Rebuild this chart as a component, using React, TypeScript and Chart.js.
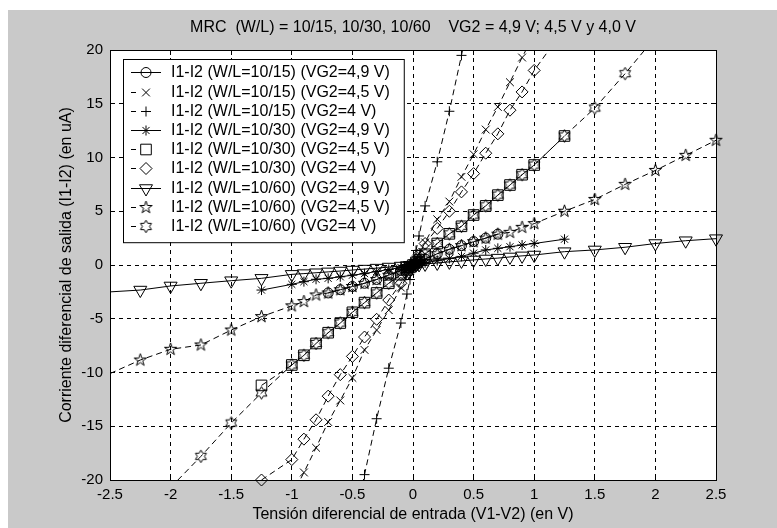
import React, { useEffect, useRef } from 'react';
import { Chart, registerables } from 'chart.js';

Chart.register(...registerables);

const FONT = '"Liberation Sans", Arial, Helvetica, sans-serif';
Chart.defaults.font.family = FONT;
Chart.defaults.color = '#000';

const TITLE = 'MRC  (W/L) = 10/15, 10/30, 10/60    VG2 = 4,9 V; 4,5 V y 4,0 V';
const X_LABEL = 'Tensión diferencial de entrada (V1-V2) (en V)';
const Y_LABEL = 'Corriente diferencial de salida (I1-I2) (en uA)';

const xTicks = [-2.5, -2, -1.5, -1, -0.5, 0, 0.5, 1, 1.5, 2, 2.5];
const xTickLabels = ['-2.5', '-2', '-1.5', '-1', '-0.5', '0', '0.5', '1', '1.5', '2', '2.5'];
const yTicks = [-20, -15, -10, -5, 0, 5, 10, 15, 20];
const yTickLabels = ['-20', '-15', '-10', '-5', '0', '5', '10', '15', '20'];

const seriesLabels = [
  'I1-I2 (W/L=10/15) (VG2=4,9 V)',
  'I1-I2 (W/L=10/15) (VG2=4,5 V)',
  'I1-I2 (W/L=10/15) (VG2=4 V)',
  'I1-I2 (W/L=10/30) (VG2=4,9 V)',
  'I1-I2 (W/L=10/30) (VG2=4,5 V)',
  'I1-I2 (W/L=10/30) (VG2=4 V)',
  'I1-I2 (W/L=10/60) (VG2=4,9 V)',
  'I1-I2 (W/L=10/60) (VG2=4,5 V)',
  'I1-I2 (W/L=10/60) (VG2=4 V)',
];

// 10/15, VG2 = 4.9 V (circles)
const x1 = [-0.7, -0.6, -0.5, -0.4, -0.3, -0.2, -0.1, -0.05, -0.025, 0, 0.025, 0.05, 0.1, 0.2, 0.3, 0.4, 0.5, 0.6, 0.7];
const y1 = [-2.6, -2.3, -2.0, -1.7, -1.35, -0.95, -0.5, -0.25, -0.13, 0, 0.14, 0.27, 0.55, 1.05, 1.46, 1.8, 2.17, 2.5, 2.87];

// 10/15, VG2 = 4.5 V (x)
const x2 = [-1, -0.9, -0.8, -0.7, -0.6, -0.5, -0.4, -0.3, -0.2, -0.1, -0.05, -0.025, 0, 0.025, 0.05, 0.1, 0.2, 0.3, 0.4, 0.5, 0.6, 0.7, 0.8, 0.9, 1];
const y2 = [-21.5, -19.3, -17, -14.6, -12.6, -10.5, -7.9, -6.05, -4.2, -2.1, -1.05, -0.52, 0, 0.52, 1.05, 2.1, 4.25, 5.9, 8.2, 10.3, 12.6, 14.7, 17, 19.3, 21.5];

// 10/15, VG2 = 4 V (+)
const x3 = [-0.5, -0.4, -0.3, -0.2, -0.1, -0.05, -0.025, 0, 0.025, 0.05, 0.1, 0.2, 0.3, 0.4, 0.5];
const y3 = [-25, -19.5, -14.3, -9.6, -5.4, -2.7, -1.35, 0, 1.35, 2.7, 5.5, 9.6, 14.3, 19.5, 25];

// 10/30, VG2 = 4.9 V (*)
const x4 = [-1.25, -1, -0.9, -0.8, -0.7, -0.6, -0.5, -0.4, -0.3, -0.2, -0.1, -0.05, -0.025, 0, 0.025, 0.05, 0.1, 0.2, 0.3, 0.4, 0.5, 0.6, 0.7, 0.8, 0.9, 1, 1.25];
const y4 = [-2.33, -1.8, -1.55, -1.33, -1.24, -1.1, -0.95, -0.8, -0.6, -0.42, -0.22, -0.11, -0.05, 0, 0.05, 0.1, 0.2, 0.4, 0.6, 0.8, 1.1, 1.4, 1.55, 1.7, 1.86, 2.0, 2.4];

// 10/30, VG2 = 4.5 V (squares)
const x5 = [-1.25, -1, -0.9, -0.8, -0.7, -0.6, -0.5, -0.4, -0.3, -0.2, -0.1, -0.05, -0.025, 0, 0.025, 0.05, 0.1, 0.2, 0.3, 0.4, 0.5, 0.6, 0.7, 0.8, 0.9, 1, 1.25];
const y5 = [-11.2, -9.3, -8.4, -7.3, -6.3, -5.4, -4.4, -3.5, -2.6, -1.7, -0.9, -0.45, -0.22, 0, 0.25, 0.5, 1.0, 2.0, 2.9, 3.6, 4.65, 5.5, 6.5, 7.44, 8.4, 9.3, 12.0];

// 10/30, VG2 = 4 V (diamonds)
const x6 = [-1.25, -1, -0.9, -0.8, -0.7, -0.6, -0.5, -0.4, -0.3, -0.2, -0.1, -0.05, -0.025, 0, 0.025, 0.05, 0.1, 0.2, 0.3, 0.4, 0.5, 0.6, 0.7, 0.8, 0.9, 1, 1.25];
const y6 = [-20, -18.1, -16.2, -14.4, -12.2, -10.2, -8.5, -6.7, -5.05, -3.26, -1.7, -0.85, -0.42, 0, 0.5, 1.0, 2.0, 3.4, 5.0, 6.8, 8.5, 10.4, 12.2, 14.4, 16.1, 18.1, 22];

// 10/60, VG2 = 4.9 V (triangles down)
const x7 = [-2.5, -2.25, -2, -1.75, -1.5, -1.25, -1, -0.9, -0.8, -0.7, -0.6, -0.5, -0.4, -0.3, -0.2, -0.1, -0.05, -0.025, 0, 0.025, 0.05, 0.1, 0.2, 0.3, 0.4, 0.5, 0.6, 0.7, 0.8, 0.9, 1, 1.25, 1.5, 1.75, 2, 2.25, 2.5];
const y7 = [-2.5, -2.33, -1.95, -1.7, -1.46, -1.24, -0.87, -0.8, -0.72, -0.64, -0.56, -0.47, -0.38, -0.29, -0.19, -0.1, -0.05, -0.025, 0, 0.025, 0.05, 0.1, 0.19, 0.29, 0.38, 0.47, 0.56, 0.64, 0.75, 0.85, 0.93, 1.24, 1.4, 1.65, 2.0, 2.26, 2.45];

// 10/60, VG2 = 4.5 V (pentagrams)
const x8 = [-2.5, -2.25, -2, -1.75, -1.5, -1.25, -1, -0.9, -0.8, -0.7, -0.6, -0.5, -0.4, -0.3, -0.2, -0.1, -0.05, -0.025, 0, 0.025, 0.05, 0.1, 0.2, 0.3, 0.4, 0.5, 0.6, 0.7, 0.8, 0.9, 1, 1.25, 1.5, 1.75, 2, 2.25, 2.5];
const y8 = [-10.1, -8.84, -7.84, -7.44, -6.05, -4.8, -3.8, -3.4, -2.79, -2.6, -2.3, -2.0, -1.7, -1.35, -0.95, -0.5, -0.25, -0.13, 0, 0.14, 0.27, 0.55, 1.05, 1.46, 1.8, 2.17, 2.5, 2.87, 3.04, 3.5, 3.85, 5.0, 6.1, 7.5, 8.8, 10.2, 11.6];

// 10/60, VG2 = 4 V (hexagrams)
const x9 = [-2, -1.75, -1.5, -1.25, -1, -0.9, -0.8, -0.7, -0.6, -0.5, -0.4, -0.3, -0.2, -0.1, -0.05, -0.025, 0, 0.025, 0.05, 0.1, 0.2, 0.3, 0.4, 0.5, 0.6, 0.7, 0.8, 0.9, 1, 1.25, 1.5, 1.75, 2];
const y9 = [-20.7, -17.8, -14.7, -11.9, -9.3, -8.4, -7.3, -6.3, -5.4, -4.4, -3.5, -2.6, -1.7, -0.9, -0.45, -0.22, 0, 0.25, 0.5, 1.0, 2.0, 2.9, 3.6, 4.65, 5.5, 6.5, 7.44, 8.4, 9.3, 12.0, 14.6, 17.8, 21.2];

const seriesX = [x1, x2, x3, x4, x5, x6, x7, x8, x9];
const seriesY = [y1, y2, y3, y4, y5, y6, y7, y8, y9];

type Marker = { style: string; radius: number; rotation: number; dashed: boolean; clip: any };
const markers: Marker[] = [
  { style: 'circle', radius: 5, rotation: 0, dashed: false, clip: 0 },
  { style: 'crossRot', radius: 5.5, rotation: 0, dashed: true, clip: 0 },
  { style: 'cross', radius: 5, rotation: 0, dashed: true, clip: 0 },
  { style: 'star', radius: 5, rotation: 0, dashed: false, clip: 0 },
  { style: 'rect', radius: 7.5, rotation: 0, dashed: true, clip: 0 },
  { style: 'rectRot', radius: 6, rotation: 0, dashed: true, clip: { left: 0, right: 0, top: 0, bottom: 8 } },
  { style: 'triangle', radius: 7.5, rotation: 180, dashed: false, clip: { left: 10, right: 10, top: 0, bottom: 0 } },
  { style: 'pent', radius: 6, rotation: 0, dashed: true, clip: { left: 10, right: 10, top: 0, bottom: 0 } },
  { style: 'hex', radius: 6, rotation: 0, dashed: true, clip: 0 },
];

function makeStar(n: number, R: number, r: number): HTMLCanvasElement {
  const size = Math.ceil(2 * R + 4);
  const c = document.createElement('canvas');
  c.width = size;
  c.height = size;
  const g = c.getContext('2d')!;
  const cx = size / 2;
  const cy = size / 2;
  g.strokeStyle = '#000';
  g.lineWidth = 1;
  g.beginPath();
  for (let k = 0; k < 2 * n; k++) {
    const a = -Math.PI / 2 + (k * Math.PI) / n;
    const rr = k % 2 === 0 ? R : r;
    const px = cx + Math.cos(a) * rr;
    const py = cy + Math.sin(a) * rr;
    if (k === 0) g.moveTo(px, py);
    else g.lineTo(px, py);
  }
  g.closePath();
  g.stroke();
  return c;
}

function drawMarker(ctx: CanvasRenderingContext2D, style: any, x: number, y: number, r: number, rot: number) {
  if (typeof style !== 'string') {
    ctx.drawImage(style, x - style.width / 2, y - style.height / 2);
    return;
  }
  ctx.beginPath();
  const d = r * Math.SQRT1_2;
  switch (style) {
    case 'circle':
      ctx.arc(x, y, r, 0, Math.PI * 2);
      ctx.closePath();
      break;
    case 'rect':
      ctx.rect(x - d, y - d, 2 * d, 2 * d);
      break;
    case 'rectRot':
      ctx.moveTo(x - r, y);
      ctx.lineTo(x, y - r);
      ctx.lineTo(x + r, y);
      ctx.lineTo(x, y + r);
      ctx.closePath();
      break;
    case 'cross':
      ctx.moveTo(x - r, y);
      ctx.lineTo(x + r, y);
      ctx.moveTo(x, y - r);
      ctx.lineTo(x, y + r);
      break;
    case 'crossRot':
      ctx.moveTo(x - d, y - d);
      ctx.lineTo(x + d, y + d);
      ctx.moveTo(x + d, y - d);
      ctx.lineTo(x - d, y + d);
      break;
    case 'star':
      ctx.moveTo(x - r, y);
      ctx.lineTo(x + r, y);
      ctx.moveTo(x, y - r);
      ctx.lineTo(x, y + r);
      ctx.moveTo(x - d, y - d);
      ctx.lineTo(x + d, y + d);
      ctx.moveTo(x + d, y - d);
      ctx.lineTo(x - d, y + d);
      break;
    case 'triangle': {
      let a = (rot * Math.PI) / 180;
      ctx.moveTo(x + Math.sin(a) * r, y - Math.cos(a) * r);
      a += (2 * Math.PI) / 3;
      ctx.lineTo(x + Math.sin(a) * r, y - Math.cos(a) * r);
      a += (2 * Math.PI) / 3;
      ctx.lineTo(x + Math.sin(a) * r, y - Math.cos(a) * r);
      ctx.closePath();
      break;
    }
  }
  ctx.stroke();
}

const bgPlugin = {
  id: 'matlabBackground',
  beforeDraw(chart: any) {
    const { ctx, width, height, chartArea } = chart;
    ctx.save();
    ctx.fillStyle = '#ffffff';
    ctx.fillRect(0, 0, width, height);
    ctx.fillStyle = '#c9c9c9';
    ctx.fillRect(8, 10, width - 8, height - 10);
    ctx.fillStyle = '#ffffff';
    ctx.fillRect(chartArea.left, chartArea.top, chartArea.right - chartArea.left, chartArea.bottom - chartArea.top);
    ctx.restore();
  },
};

function makeLegendPlugin(styles: any[]) {
  return {
    id: 'matlabLegend',
    afterDraw(chart: any) {
      const ctx: CanvasRenderingContext2D = chart.ctx;
      const datasets = chart.data.datasets;
      const n = datasets.length;
      const left = 123;
      const top = 59;
      const firstRow = 72.3;
      const rowH = 19.2;
      const textX = 171;
      ctx.save();
      ctx.font = '16px ' + FONT;
      let maxW = 0;
      for (const ds of datasets) maxW = Math.max(maxW, ctx.measureText(ds.label).width);
      const right = textX + maxW + 14;
      const bottom = firstRow + rowH * (n - 1) + 16.3;
      ctx.fillStyle = '#fff';
      ctx.fillRect(left, top, right - left, bottom - top);
      ctx.strokeStyle = '#000';
      ctx.lineWidth = 1;
      ctx.strokeRect(left + 0.5, top + 0.5, right - left, bottom - top);
      for (let i = 0; i < n; i++) {
        const y = Math.round(firstRow + i * rowH) + 0.5;
        const m = markers[i];
        ctx.strokeStyle = '#000';
        ctx.lineWidth = 1;
        ctx.setLineDash(m.dashed ? [5, 40] : []);
        ctx.beginPath();
        ctx.moveTo(131, y);
        ctx.lineTo(161, y);
        ctx.stroke();
        ctx.setLineDash([]);
        drawMarker(ctx, styles[i], 146, y, m.radius, m.rotation);
        ctx.fillStyle = '#000';
        ctx.textBaseline = 'middle';
        ctx.textAlign = 'left';
        ctx.fillText(datasets[i].label, textX, y);
      }
      ctx.restore();
    },
  };
}

function tickLabel(values: number[], labels: string[]) {
  return (v: any) => {
    const i = values.findIndex((t) => Math.abs(t - Number(v)) < 1e-9);
    return i >= 0 ? labels[i] : '';
  };
}

export default function App() {
  const ref = useRef<HTMLCanvasElement | null>(null);

  useEffect(() => {
    const canvas = ref.current;
    if (!canvas) return;
    const pent = makeStar(5, 6.5, 6.5 * 0.382);
    const hex = makeStar(6, 6.3, 6.3 / Math.sqrt(3));
    const styles = markers.map((m) => (m.style === 'pent' ? pent : m.style === 'hex' ? hex : m.style));

    const datasets = seriesX.map((xs, i) => ({
      label: seriesLabels[i],
      data: xs.map((x, j) => ({ x, y: seriesY[i][j] })),
      borderColor: '#000',
      borderWidth: 1,
      borderDash: markers[i].dashed ? [6, 4] : [],
      pointStyle: styles[i] as any,
      // the data line runs on to the left axis limit, where no marker is shown
      pointRadius: (c: any) => (c.raw && c.raw.x <= -2.5 ? 0 : markers[i].radius),
      pointRotation: markers[i].rotation,
      pointBorderColor: '#000',
      pointBackgroundColor: 'rgba(0,0,0,0)',
      pointBorderWidth: 1,
      fill: false,
      tension: 0,
      clip: markers[i].clip,
    }));

    const innerTicks = {
      color: '#000',
      lineWidth: 1,
      drawTicks: true,
      tickLength: -5,
      tickColor: '#000',
      tickWidth: 1,
      tickBorderDash: [],
    };

    const chart = new Chart(canvas, {
      type: 'line',
      data: { datasets: datasets as any },
      options: {
        responsive: false,
        animation: false,
        devicePixelRatio: 1,
        events: [],
        layout: { padding: { left: 0, right: 61, top: 0, bottom: 0 } },
        plugins: {
          legend: { display: false },
          tooltip: { enabled: false },
          title: {
            display: true,
            text: TITLE,
            color: '#000',
            fullSize: false,
            font: { size: 16, weight: 'normal', family: FONT },
            padding: { top: 18.4, bottom: 12.4 },
          },
        },
        scales: {
          x: {
            type: 'linear',
            position: 'bottom',
            min: -2.5,
            max: 2.5,
            ticks: {
              stepSize: 0.5,
              color: '#000',
              font: { size: 15, family: FONT },
              padding: 11,
              maxRotation: 0,
              autoSkip: false,
              callback: tickLabel(xTicks, xTickLabels),
            },
            grid: innerTicks as any,
            border: { display: true, color: '#000', width: 1, dash: [4, 4] },
            title: {
              display: true,
              text: X_LABEL,
              color: '#000',
              font: { size: 16, family: FONT },
              padding: { top: 0, bottom: 3.4 },
            },
            afterFit: (s: any) => {
              s.height = 48;
            },
          },
          y: {
            type: 'linear',
            position: 'left',
            min: -20,
            max: 20,
            ticks: {
              stepSize: 5,
              color: '#000',
              font: { size: 15, family: FONT },
              padding: 12,
              autoSkip: false,
              callback: tickLabel(yTicks, yTickLabels),
            },
            grid: innerTicks as any,
            border: { display: true, color: '#000', width: 1, dash: [4, 4] },
            title: {
              display: true,
              text: Y_LABEL,
              color: '#000',
              font: { size: 16, family: FONT },
              padding: { top: 57, bottom: 0 },
            },
            afterFit: (s: any) => {
              s.width = 110;
            },
          },
          xTop: {
            type: 'linear',
            position: 'top',
            min: -2.5,
            max: 2.5,
            ticks: { stepSize: 0.5, display: false },
            grid: { ...innerTicks, drawOnChartArea: false } as any,
            border: { display: true, color: '#000', width: 1 },
            afterFit: (s: any) => {
              s.height = 0;
            },
          },
          yRight: {
            type: 'linear',
            position: 'right',
            min: -20,
            max: 20,
            ticks: { stepSize: 5, display: false },
            grid: { ...innerTicks, drawOnChartArea: false } as any,
            border: { display: true, color: '#000', width: 1 },
            afterFit: (s: any) => {
              s.width = 0;
            },
          },
        },
      } as any,
      plugins: [bgPlugin, makeLegendPlugin(styles)],
    });

    return () => chart.destroy();
  }, []);

  return (
    <div style={{ position: 'fixed', left: 0, top: 0, width: 777, height: 528, background: '#fff' }}>
      <canvas ref={ref} width={777} height={528} style={{ width: 777, height: 528, display: 'block' }} />
    </div>
  );
}
